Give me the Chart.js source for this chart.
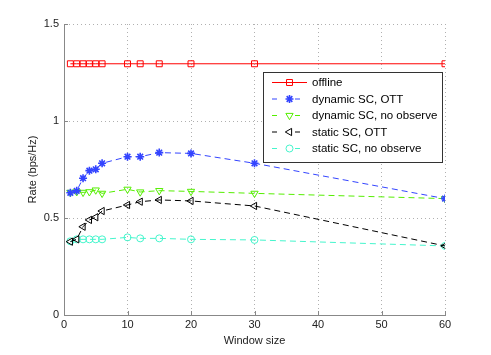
<!DOCTYPE html>
<html>
<head>
<meta charset="utf-8">
<script src="https://cdn.jsdelivr.net/npm/chart.js@4/dist/chart.umd.min.js"></script>
<style>
html,body{margin:0;padding:0;background:#fff;}
#wrap{width:491px;height:355px;}
</style>
</head>
<body>
<div id="wrap"><canvas id="c" width="491" height="355"></canvas></div>
<script>
const windowSizes = [1, 2, 3, 4, 5, 6, 10, 12, 15, 20, 30, 60];
const offline = [1.295, 1.295, 1.295, 1.295, 1.295, 1.295, 1.295, 1.295, 1.295, 1.295, 1.295, 1.295];
const dynamicOTT = [0.63, 0.64, 0.705, 0.744, 0.751, 0.782, 0.816, 0.816, 0.837, 0.833, 0.782, 0.60];
const dynamicNoObs = [0.632, 0.635, 0.632, 0.635, 0.644, 0.627, 0.648, 0.634, 0.641, 0.637, 0.627, 0.60];
const staticOTT = [0.378, 0.39, 0.455, 0.49, 0.504, 0.536, 0.567, 0.584, 0.593, 0.588, 0.562, 0.356];
const staticNoObs = [0.38, 0.39, 0.39, 0.39, 0.39, 0.39, 0.40, 0.395, 0.395, 0.39, 0.387, 0.356];
const seriesNames = ['offline', 'dynamic SC, OTT', 'dynamic SC, no observe', 'static SC, OTT', 'static SC, no observe'];
const xTicks = [0, 10, 20, 30, 40, 50, 60];
const yTicks = [0, 0.5, 1, 1.5];

const FONT = '"Liberation Sans", Arial, sans-serif';
const pts = arr => arr.map((v, i) => ({x: windowSizes[i], y: v}));

const styles = [
  {color: '#ff0000', dash: [], pointStyle: 'rect', radius: 4.2, rotation: 0},
  {color: '#3344ff', dash: [6, 4], pointStyle: 'star', radius: 4, rotation: 0},
  {color: '#55ee00', dash: [6, 4], pointStyle: 'triangle', radius: 4.2, rotation: 180},
  {color: '#000000', dash: [6, 4], pointStyle: 'triangle', radius: 4.2, rotation: 270},
  {color: '#44f5cc', dash: [6, 4], pointStyle: 'circle', radius: 3.5, rotation: 0}
];
const seriesData = [offline, dynamicOTT, dynamicNoObs, staticOTT, staticNoObs];

const datasets = seriesData.map((d, i) => ({
  label: seriesNames[i],
  data: pts(d),
  borderColor: styles[i].color,
  backgroundColor: 'rgba(0,0,0,0)',
  borderWidth: 1,
  borderDash: styles[i].dash,
  pointStyle: styles[i].pointStyle,
  pointRadius: styles[i].radius,
  pointRotation: styles[i].rotation,
  pointBorderColor: styles[i].color,
  pointBackgroundColor: 'rgba(0,0,0,0)',
  pointBorderWidth: i === 1 ? 1.6 : 1,
  tension: 0,
  fill: false
}));

function drawMarker(ctx, st, x, y) {
  ctx.save();
  ctx.setLineDash([]);
  ctx.strokeStyle = st.color;
  ctx.lineWidth = st.pointStyle === 'star' ? 1.6 : 1;
  if (Chart.helpers && Chart.helpers.drawPoint) {
    ctx.fillStyle = 'rgba(0,0,0,0)';
    Chart.helpers.drawPoint(ctx, {pointStyle: st.pointStyle, radius: st.radius, rotation: st.rotation, borderWidth: ctx.lineWidth}, x, y);
  }
  ctx.restore();
}

const legendPlugin = {
  id: 'innerLegend',
  afterDraw(chart) {
    const ctx = chart.ctx;
    const L = 263, T = 72, R = 442, B = 162;
    ctx.save();
    ctx.fillStyle = '#ffffff';
    ctx.fillRect(L, T, R - L, B - T);
    ctx.strokeStyle = '#333333';
    ctx.lineWidth = 1;
    ctx.strokeRect(L + 0.5, T + 0.5, R - L, B - T);
    const rows = [82.5, 99, 115.5, 132, 148.5];
    ctx.font = '11.5px ' + FONT;
    ctx.textBaseline = 'middle';
    rows.forEach((ry, i) => {
      const st = styles[i];
      ctx.save();
      ctx.strokeStyle = st.color;
      ctx.lineWidth = 1;
      ctx.setLineDash(st.dash.length ? [5, 18] : []);
      ctx.beginPath();
      ctx.moveTo(272, ry);
      ctx.lineTo(307, ry);
      ctx.stroke();
      ctx.restore();
      drawMarker(ctx, st, 289.5, ry);
      ctx.fillStyle = '#000';
      ctx.fillText(seriesNames[i], 312, ry + 0.5);
    });
    ctx.restore();
  }
};

const inwardTicks = {
  id: 'inwardTicks',
  beforeDatasetsDraw(chart) {
    const ctx = chart.ctx, a = chart.chartArea;
    const xs = chart.scales.x, ys = chart.scales.y;
    ctx.save();
    ctx.strokeStyle = '#888';
    ctx.lineWidth = 1;
    ctx.beginPath();
    xTicks.forEach(t => {
      const px = Math.round(xs.getPixelForValue(t)) + 0.5;
      ctx.moveTo(px, a.bottom);
      ctx.lineTo(px, a.bottom - 4);
    });
    yTicks.forEach(t => {
      const py = Math.round(ys.getPixelForValue(t)) + 0.5;
      ctx.moveTo(a.left, py);
      ctx.lineTo(a.left + 4, py);
    });
    ctx.stroke();
    ctx.restore();
  }
};

new Chart(document.getElementById('c'), {
  type: 'line',
  data: {datasets},
  plugins: [inwardTicks, legendPlugin],
  options: {
    responsive: false,
    animation: false,
    devicePixelRatio: 1,
    layout: {padding: {top: 24, right: 46, bottom: 0, left: 0}},
    plugins: {legend: {display: false}, tooltip: {enabled: false}},
    scales: {
      x: {
        type: 'linear',
        min: 0, max: 60,
        afterBuildTicks: s => { s.ticks = xTicks.map(v => ({value: v})); },
        afterFit: s => { s.height = 40; },
        ticks: {color: '#222', font: {family: FONT, size: 11}, padding: 3, maxRotation: 0},
        grid: {color: '#b0b0b0', drawTicks: false, lineWidth: 1},
        border: {display: true, color: '#888', width: 1, dash: [1, 3]},
        title: {display: true, text: 'Window size', color: '#222', font: {family: FONT, size: 11}, padding: {top: 3, bottom: 7}}
      },
      y: {
        type: 'linear',
        min: 0, max: 1.5,
        afterBuildTicks: s => { s.ticks = yTicks.map(v => ({value: v})); },
        afterFit: s => { s.width = 64; },
        ticks: {color: '#222', font: {family: FONT, size: 11}, padding: 5, callback: v => String(v)},
        grid: {color: '#b0b0b0', drawTicks: false, lineWidth: 1},
        border: {display: true, color: '#888', width: 1, dash: [1, 3]},
        title: {display: true, text: 'Rate (bps/Hz)', color: '#222', font: {family: FONT, size: 11}, padding: {top: 26, bottom: 0}}
      }
    }
  }
});
</script>
</body>
</html>
